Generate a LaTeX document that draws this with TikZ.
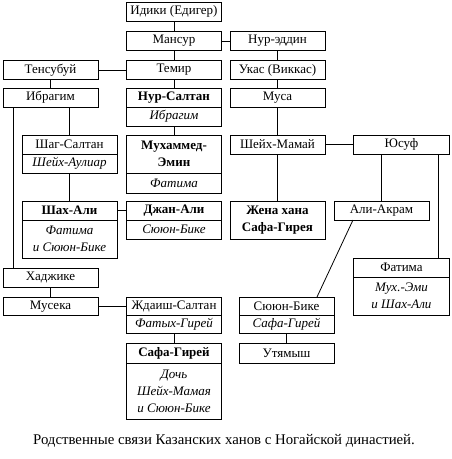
\documentclass[tikz,border=0pt]{standalone}
\usepackage{fontspec}
\setmainfont{Liberation Serif}
\usepackage{tikz}
\usetikzlibrary{positioning}

\begin{document}
\begin{tikzpicture}[x=1pt, y=-1pt, line width=0.8pt,
        box/.style={draw, minimum width=95pt, minimum height=19pt, inner sep=0pt, outer sep=0pt, align=center, font=\fontsize{13}{17}\selectfont},
        wife/.style={box, font=\fontsize{13}{17}\selectfont\itshape},
        khan/.style={box, font=\fontsize{13}{17}\selectfont\bfseries}]
        \useasboundingbox (0,0) rectangle (451,459);
        % left column
        \node[box, anchor=north west] (tensubuy) at (3,60.5) {Тенсубуй};
        \node[box, anchor=north west] (ibragim) at (3,88) {Ибрагим};
        \node[box, anchor=north west] (shagsaltan) at (22,135) {Шаг-Салтан};
        \node[wife, below=0pt of shagsaltan] (shagsaltan-b) {Шейх-Аулиар};
        \node[khan, anchor=north west] (shahali) at (22,201) {Шах-Али};
        \node[wife, below=0pt of shahali, minimum height=38pt] (shahali-b) {Фатима\\и Сююн-Бике};
        \node[box, anchor=north west] (khadzhike) at (3,268) {Хаджике};
        \node[box, anchor=north west, minimum height=18.5pt] (museka) at (3,297) {Мусека};
        % middle column
        \node[box, anchor=north west] (idiki) at (126.5,2) {Идики (Едигер)};
        \node[box, anchor=north west] (mansur) at (126.5,31.5) {Мансур};
        \node[box, anchor=north west] (temir) at (126.5,60.5) {Темир};
        \node[khan, anchor=north west] (nursaltan) at (126.5,88) {Нур-Салтан};
        \node[wife, below=0pt of nursaltan] (nursaltan-b) {Ибрагим};
        \node[khan, anchor=north west, minimum height=38pt] (mukhammed) at (126.5,135) {Мухаммед-\\Эмин};
        \node[wife, below=0pt of mukhammed, minimum height=20pt] (mukhammed-b) {Фатима};
        \node[khan, anchor=north west] (janali) at (126.5,201) {Джан-Али};
        \node[wife, below=0pt of janali] (janali-b) {Сююн-Бике};
        \node[box, anchor=north west, minimum height=18.5pt] (zhdaish) at (126.5,297) {Ждаиш-Салтан};
        \node[wife, below=0pt of zhdaish, minimum height=18pt] (zhdaish-b) {Фатых-Гирей};
        \node[khan, anchor=north west, minimum height=20pt] (safa) at (126.5,343) {Сафа-Гирей};
        \node[wife, below=0pt of safa, minimum height=56pt] (safa-b) {Дочь\\Шейх-Мамая\\и Сююн-Бике};
        % right columns
        \node[box, anchor=north west] (nureddin) at (230,31.5) {Нур-эддин};
        \node[box, anchor=north west] (ukas) at (230,60.5) {Укас (Виккас)};
        \node[box, anchor=north west] (musa) at (230,88) {Муса};
        \node[box, anchor=north west] (sheikh) at (230,135) {Шейх-Мамай};
        \node[box, anchor=north west, minimum width=96pt] (yusuf) at (353.5,135) {Юсуф};
        \node[khan, anchor=north west, minimum height=38pt] (zhena) at (230,201) {Жена хана\\Сафа-Гирея};
        \node[box, anchor=north west] (aliakram) at (334,201) {Али-Акрам};
        \node[box, anchor=north west, minimum width=96pt] (fatima) at (353.5,258) {Фатима};
        \node[wife, below=0pt of fatima, minimum width=96pt, minimum height=38pt] (fatima-b) {Мух.-Эми\\и Шах-Али};
        \node[box, anchor=north west, minimum height=18.5pt] (syuyun) at (239,297) {Сююн-Бике};
        \node[wife, below=0pt of syuyun, minimum height=18pt] (syuyun-b) {Сафа-Гирей};
        \node[box, anchor=north west, minimum height=20pt] (utyamysh) at (239,343) {Утямыш};
        \node[font=\fontsize{14.8}{17}\selectfont] (caption) at (224,441) {Родственные связи Казанских ханов с Ногайской династией.};

        \draw (idiki) -- (mansur);
        \draw (mansur) -- (nureddin);
        \draw (mansur) -- (temir);
        \draw (temir) -- (tensubuy);
        \draw (tensubuy) -- (ibragim);
        \draw (temir) -- (nursaltan);
        \draw (nursaltan-b) -- (mukhammed);
        \draw (nureddin) -- (ukas);
        \draw (ukas) -- (musa);
        \draw (musa) -- (sheikh);
        \draw (sheikh) -- (yusuf);
        \draw (sheikh) -- (zhena);
        \draw (shagsaltan.north) -- (shagsaltan.north |- ibragim.south);
        \draw (shagsaltan-b) -- (shahali);
        \draw (shahali) -- (janali);
        \draw ([xshift=10pt]ibragim.south west) -- ([xshift=10pt]khadzhike.north west);
        \draw (khadzhike) -- (museka);
        \draw (museka) -- (zhdaish);
        \draw (zhdaish-b) -- (safa);
        \draw (aliakram.north) -- (aliakram.north |- yusuf.south);
        \draw ([xshift=-11pt]yusuf.south east) -- ([xshift=-11pt]fatima.north east);
        \draw ([xshift=19pt]aliakram.south west) -- ([xshift=-17pt]syuyun.north east);
        \draw (syuyun-b) -- (utyamysh);
    \end{tikzpicture}
\end{document}
